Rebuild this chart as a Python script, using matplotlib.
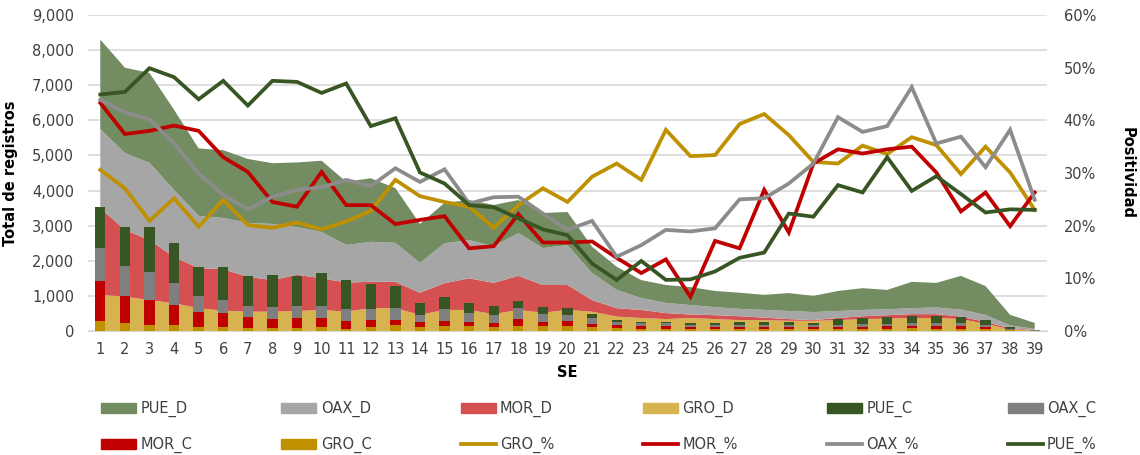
import matplotlib
matplotlib.use("Agg")
import matplotlib.pyplot as plt
import numpy as np
from matplotlib.patches import Patch
from matplotlib.lines import Line2D
from matplotlib.ticker import FuncFormatter, MultipleLocator

plt.rcParams['font.family'] = ['DejaVu Sans']

weeks = list(range(1, 40))

GRO_D = [1030, 980, 880, 790, 650, 580, 550, 550, 570, 600, 550, 650, 650, 460, 600, 600, 480, 600, 520, 600,
         550, 410, 370, 340, 370, 340, 310, 310, 290, 290, 310, 340, 350, 370, 370, 340, 200, 50, 20]
MOR_D = [2470, 1900, 1710, 1320, 1140, 1180, 990, 900, 1030, 900, 830, 750, 750, 630, 760, 900, 890, 970, 790, 710,
         330, 240, 230, 170, 100, 110, 110, 70, 50, 20, 60, 80, 100, 110, 110, 70, 60, 30, 10]
OAX_D = [2250, 2190, 2200, 1910, 1490, 1460, 1540, 1600, 1360, 1320, 1070, 1140, 1110, 850, 1140, 1090, 1050, 1220, 1050, 1140,
         770, 520, 340, 290, 270, 230, 210, 220, 230, 230, 200, 180, 170, 170, 190, 200, 200, 80, 30]
PUE_D = [2550, 2430, 2560, 2280, 1920, 1930, 1820, 1730, 1840, 2030, 1800, 1810, 1560, 1110, 1150, 1140, 1170, 940, 1000, 940,
         750, 660, 510, 510, 510, 460, 460, 430, 510, 460, 570, 620, 550, 750, 700, 960, 820, 300, 170]

GRO_C = [290, 240, 160, 160, 100, 100, 80, 80, 80, 100, 70, 120, 170, 100, 140, 130, 100, 130, 130, 130,
         100, 80, 70, 70, 60, 60, 60, 60, 60, 60, 60, 60, 70, 75, 70, 70, 50, 20, 5]
MOR_C = [1130, 770, 720, 570, 450, 420, 310, 250, 280, 280, 220, 190, 140, 170, 150, 140, 140, 210, 140, 160,
         100, 80, 80, 80, 50, 50, 50, 50, 50, 40, 50, 60, 60, 65, 60, 60, 50, 10, 5]
OAX_C = [950, 850, 810, 650, 450, 360, 320, 340, 360, 340, 330, 310, 340, 190, 330, 250, 220, 310, 210, 170,
         160, 90, 70, 70, 50, 50, 60, 60, 60, 60, 70, 70, 80, 100, 100, 90, 60, 20, 5]
PUE_C = [1160, 1110, 1260, 1120, 830, 930, 860, 920, 850, 940, 820, 710, 630, 350, 360, 290, 260, 200, 190, 190,
         120, 60, 50, 50, 60, 60, 80, 90, 100, 80, 160, 170, 180, 200, 200, 190, 150, 50, 5]

GRO_P = [30.6, 27.1, 20.9, 25.2, 19.8, 24.9, 20.1, 19.6, 20.6, 19.3, 20.8, 22.8, 28.7, 25.6, 24.5, 23.6, 19.6, 23.9, 27.1, 24.5,
         29.3, 31.8, 28.7, 38.2, 33.2, 33.4, 39.3, 41.2, 37.2, 32.1, 31.8, 35.2, 33.6, 36.8, 35.3, 29.8, 35.0, 30.1, 23.0]
MOR_P = [43.3, 37.4, 38.0, 39.0, 38.0, 33.0, 30.2, 24.5, 23.6, 30.2, 23.9, 23.9, 20.3, 21.1, 21.8, 15.7, 16.1, 22.2, 16.8, 16.8,
         17.0, 13.9, 11.0, 13.6, 6.5, 17.1, 15.7, 26.8, 18.7, 31.8, 34.5, 33.7, 34.5, 35.0, 30.1, 22.7, 26.3, 19.9, 26.3]
OAX_P = [43.9, 41.5, 40.2, 35.6, 29.9, 25.8, 23.1, 25.5, 26.8, 27.3, 28.7, 27.5, 30.9, 28.3, 30.7, 24.2, 25.4, 25.5, 22.3, 19.2,
         20.9, 14.1, 16.3, 19.2, 18.9, 19.5, 25.0, 25.2, 28.0, 31.8, 40.6, 37.8, 38.9, 46.3, 35.6, 36.9, 31.1, 38.2, 24.9]
PUE_P = [44.9, 45.4, 49.9, 48.2, 44.0, 47.5, 42.8, 47.5, 47.3, 45.2, 47.0, 38.9, 40.4, 30.1, 28.0, 23.9, 23.5, 21.4, 19.3, 18.2,
         12.8, 9.7, 13.3, 9.7, 9.8, 11.3, 13.9, 14.9, 22.3, 21.7, 27.7, 26.3, 33.0, 26.6, 29.4, 26.0, 22.5, 23.1, 23.0]

c_pue_d, c_oax_d, c_mor_d, c_gro_d = '#738C61', '#A6A6A6', '#D55050', '#D6B34E'
c_pue_c, c_oax_c, c_mor_c, c_gro_c = '#375623', '#7F7F7F', '#C00000', '#BF9000'
c_gro_l, c_mor_l, c_oax_l, c_pue_l = '#BF9000', '#C00000', '#8C8C8C', '#375623'

fig = plt.figure(figsize=(11.4, 4.55), dpi=100)
ax = fig.add_axes([88/1140, 1-331/455, (1047-88)/1140, (331-15)/455])

x = np.array(weeks)
ax.stackplot(x, GRO_D, MOR_D, OAX_D, PUE_D, colors=[c_gro_d, c_mor_d, c_oax_d, c_pue_d], linewidth=0, zorder=2)

w = 0.42
bottom = np.zeros(len(x))
for vals, col in [(GRO_C, c_gro_c), (MOR_C, c_mor_c), (OAX_C, c_oax_c), (PUE_C, c_pue_c)]:
    v = np.array(vals, dtype=float)
    ax.bar(x, v, width=w, bottom=bottom, color=col, linewidth=0, zorder=3)
    bottom += v

ax.set_xlim(0.5, 39.5)
ax.set_ylim(0, 9000)
ax.yaxis.set_major_locator(MultipleLocator(1000))
ax.yaxis.set_major_formatter(FuncFormatter(lambda v, p: f"{int(v):,}"))
ax.set_xticks(weeks)
ax.grid(axis='y', color='#D9D9D9', linewidth=1.2, zorder=0)
ax.set_axisbelow(True)
for s in ['top', 'right', 'left']:
    ax.spines[s].set_visible(False)
ax.spines['bottom'].set_color('#D9D9D9')
ax.tick_params(axis='both', length=0, labelsize=10.5, colors='#404040')
ax.tick_params(axis='x', pad=8)
ax.tick_params(axis='y', pad=10)
ax.set_ylabel('Total de registros', fontsize=10.5, fontweight='bold', color='black')
ax.yaxis.set_label_coords((18 - 88) / 959, 0.5)
ax.set_xlabel('SE', fontsize=10.5, fontweight='bold', color='black', labelpad=6)

ax2 = ax.twinx()
for vals, col in [(GRO_P, c_gro_l), (MOR_P, c_mor_l), (OAX_P, c_oax_l), (PUE_P, c_pue_l)]:
    ax2.plot(x, np.array(vals) / 100.0, color=col, linewidth=2.7, solid_joinstyle='miter', zorder=5)
ax2.set_ylim(0, 0.6)
ax2.yaxis.set_major_locator(MultipleLocator(0.1))
ax2.yaxis.set_major_formatter(FuncFormatter(lambda v, p: f"{int(round(v*100))}%"))
for s in ['top', 'right', 'left', 'bottom']:
    ax2.spines[s].set_visible(False)
ax2.tick_params(axis='y', length=0, labelsize=10.5, colors='#404040', pad=12)
ax2.set_ylabel('Positividad', fontsize=10.5, fontweight='bold', color='black', rotation=270, va='center')
ax2.yaxis.set_label_coords((1127 - 88) / 959, 0.5)

handles = [
    Patch(color=c_pue_d, label='PUE_D'), Patch(color=c_oax_d, label='OAX_D'),
    Patch(color=c_mor_d, label='MOR_D'), Patch(color=c_gro_d, label='GRO_D'),
    Patch(color=c_pue_c, label='PUE_C'), Patch(color=c_oax_c, label='OAX_C'),
    Patch(color=c_mor_c, label='MOR_C'), Patch(color=c_gro_c, label='GRO_C'),
    Line2D([], [], color=c_gro_l, lw=2.7, label='GRO_%'), Line2D([], [], color=c_mor_l, lw=2.7, label='MOR_%'),
    Line2D([], [], color=c_oax_l, lw=2.7, label='OAX_%'), Line2D([], [], color=c_pue_l, lw=2.7, label='PUE_%'),
]
ncol = 6
order = []
for c in range(ncol):
    order += [c, c + ncol]
handles_cm = [handles[i] for i in order]
fig.legend(handles=handles_cm, loc='center', ncol=ncol, mode='expand',
           bbox_to_anchor=(94/1140, 1 - 427/455, (1104-94)/1140, 0),
           frameon=False, fontsize=10.5, handlelength=2.4, handleheight=0.7,
           handletextpad=0.3, labelspacing=1.35, borderpad=0, labelcolor='#404040')

fig.savefig('out.png', dpi=100)
